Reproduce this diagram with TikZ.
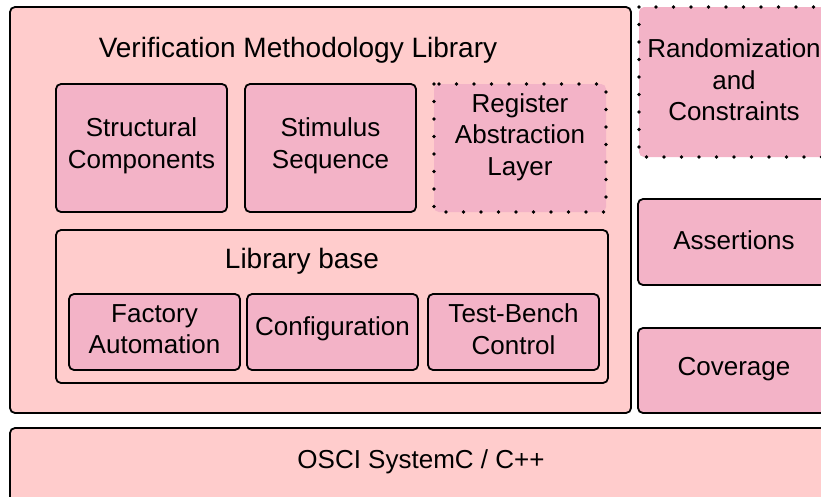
\documentclass[tikz,border=0pt]{standalone}
\usepackage{fontspec}
\setmainfont{Liberation Sans}
\definecolor{outerpink}{HTML}{FFCCCC}
\definecolor{innerpink}{HTML}{F3B3C7}
\begin{document}
\begin{tikzpicture}[x=1pt,y=-1pt,
  solidbox/.style={draw=black,line width=1.8pt,rounded corners=5pt},
  dotbox/.style={draw=black,line width=3.6pt,line cap=round,dash pattern=on 0pt off 17.5pt},
  lbl/.style={font=\fontsize{26}{31.5}\selectfont,align=center,text=black,inner sep=0pt},
  head/.style={lbl,font=\fontsize{28}{33}\selectfont}]
\useasboundingbox (0,0) rectangle (821,496);
\clip (0,0) rectangle (821,496);
% outer VML
\draw[solidbox,fill=outerpink] (10,7) rectangle (631,413);
\node[head] (vmlt) at (298,50) {Verification Methodology Library};
% top inner boxes
\draw[solidbox,fill=innerpink] (56,84) rectangle (227,212);
\node[lbl] (sc) at (141.5,146) {Structural\\Components};
\draw[solidbox,fill=innerpink] (245,84) rectangle (416,212);
\node[lbl] (ss) at (330.5,146) {Stimulus\\Sequence};
\fill[innerpink,rounded corners=5pt] (434,84) rectangle (606,212);
\draw[dotbox] (434,84) rectangle (606,212);
\node[lbl] (ral) at (520,137) {Register\\Abstraction\\Layer};
% library base
\draw[solidbox,fill=outerpink] (56,230) rectangle (608,383);
\node[head] (lb) at (302,261) {Library base};
\draw[solidbox,fill=innerpink] (69,294) rectangle (240,370);
\node[lbl] (fa) at (154.5,329) {Factory\\Automation};
\draw[solidbox,fill=innerpink] (247,294) rectangle (418,370);
\node[lbl] (cf) at (332.5,329) {Configuration};
\draw[solidbox,fill=innerpink] (428,294) rectangle (599,370);
\node[lbl] (tb) at (513.5,329) {Test-Bench\\Control};
% right column
\fill[innerpink,rounded corners=5pt] (639,7) rectangle (830,157);
\draw[dotbox] (639,7) rectangle (830,157);
\node[lbl] (rc) at (734,80) {Randomization\\and\\Constraints};
\draw[solidbox,fill=innerpink] (638,199) rectangle (830,285);
\node[lbl] (as) at (734,240) {Assertions};
\draw[solidbox,fill=innerpink] (638,328) rectangle (830,413);
\node[lbl] (cv) at (734,369) {Coverage};
% bottom
\draw[solidbox,fill=outerpink] (10,428) rectangle (830,510);
\node[lbl] (os) at (421,462) {OSCI SystemC / C++};
\end{tikzpicture}
\end{document}
